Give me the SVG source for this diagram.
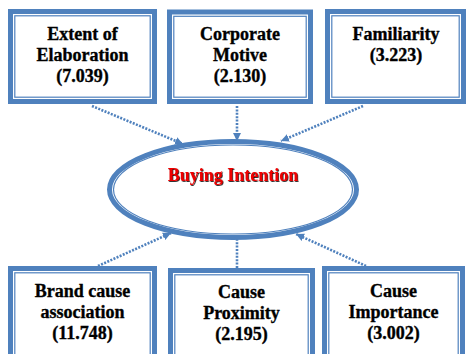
<svg xmlns="http://www.w3.org/2000/svg" width="467" height="354" viewBox="0 0 467 354">
  <style>
    .frame { fill: #ffffff; stroke: #4f81bd; stroke-width: 5; }
    .inner { fill: none; stroke: #4f81bd; stroke-width: 1.2; }
    .label { font-weight: bold; font-size: 18px; fill: #000000; stroke: #000000; stroke-width: 0.35; text-anchor: middle; }
    .focus { font-weight: bold; font-size: 18px; fill: #ee0000; text-anchor: middle; }
    .link { fill: none; stroke: #4f81bd; stroke-width: 2.6; stroke-dasharray: 2 1.4; }
  </style>
  <defs>
    <marker id="tip" viewBox="0 0 10 10" refX="10" refY="5" markerWidth="8" markerHeight="9" markerUnits="userSpaceOnUse" orient="auto">
      <path d="M0,0 L10,5 L0,10 Z" fill="#4f81bd"/>
    </marker>
    <filter id="shade" x="-10%" y="-30%" width="120%" height="160%">
      <feDropShadow dx="0.8" dy="0.8" stdDeviation="0" flood-color="#000000"/>
    </filter>
  </defs>

  <rect width="467" height="354" fill="#ffffff"/>

  <!-- dotted connectors into the central ellipse -->
  <g id="connectors">
    <path class="link" d="M92,106 L183,144" marker-end="url(#tip)"/>
    <path class="link" d="M237,106 L237,141" marker-end="url(#tip)"/>
    <path class="link" d="M363,106 L281,141" marker-end="url(#tip)"/>
    <path class="link" d="M98,266 L171,233" marker-end="url(#tip)"/>
    <path class="link" d="M237,268 L237,230" marker-end="url(#tip)"/>
    <path class="link" d="M366,266 L296,234" marker-end="url(#tip)"/>
  </g>

  <g font-family="Liberation Serif, Times New Roman, DejaVu Serif, serif">
    <!-- central construct -->
    <g id="buying-intention">
      <ellipse cx="233" cy="189.5" rx="123.5" ry="48" fill="#ffffff" stroke="#4f81bd" stroke-width="5"/>
      <ellipse cx="233" cy="189.5" rx="119.5" ry="44.5" class="inner"/>
      <text class="focus" x="233" y="181" filter="url(#shade)">Buying Intention</text>
    </g>

    <!-- top row -->
    <g id="extent-of-elaboration">
      <rect class="frame" x="10.5" y="11.5" width="144" height="90"/>
      <rect class="inner" x="14.8" y="15.8" width="135.4" height="81.4"/>
      <text class="label" x="82.5" y="40">Extent of</text>
      <text class="label" x="82.5" y="61">Elaboration</text>
      <text class="label" x="82.5" y="82">(7.039)</text>
    </g>

    <g id="corporate-motive">
      <rect class="frame" x="169.5" y="12" width="141" height="89.5"/>
      <rect class="inner" x="173.8" y="16.3" width="132.4" height="80.9"/>
      <text class="label" x="240" y="40">Corporate</text>
      <text class="label" x="240" y="61">Motive</text>
      <text class="label" x="240" y="82">(2.130)</text>
    </g>

    <g id="familiarity">
      <rect class="frame" x="327.5" y="11.5" width="136" height="90"/>
      <rect class="inner" x="331.8" y="15.8" width="127.4" height="81.4"/>
      <text class="label" x="396" y="40">Familiarity</text>
      <text class="label" x="396" y="61">(3.223)</text>
    </g>

    <!-- bottom row -->
    <g id="brand-cause-association">
      <rect class="frame" x="10.5" y="268.5" width="144" height="100"/>
      <rect class="inner" x="14.8" y="272.8" width="135.4" height="91.4"/>
      <text class="label" x="82.5" y="297">Brand cause</text>
      <text class="label" x="82.5" y="318">association</text>
      <text class="label" x="82.5" y="339">(11.748)</text>
    </g>

    <g id="cause-proximity">
      <rect class="frame" x="170.5" y="270.5" width="142" height="100"/>
      <rect class="inner" x="174.8" y="274.8" width="133.4" height="91.4"/>
      <text class="label" x="241.5" y="298">Cause</text>
      <text class="label" x="241.5" y="319">Proximity</text>
      <text class="label" x="241.5" y="340">(2.195)</text>
    </g>

    <g id="cause-importance">
      <rect class="frame" x="324.5" y="268.5" width="138" height="100"/>
      <rect class="inner" x="328.8" y="272.8" width="129.4" height="91.4"/>
      <text class="label" x="393.5" y="297">Cause</text>
      <text class="label" x="393.5" y="318">Importance</text>
      <text class="label" x="393.5" y="339">(3.002)</text>
    </g>
  </g>
</svg>
